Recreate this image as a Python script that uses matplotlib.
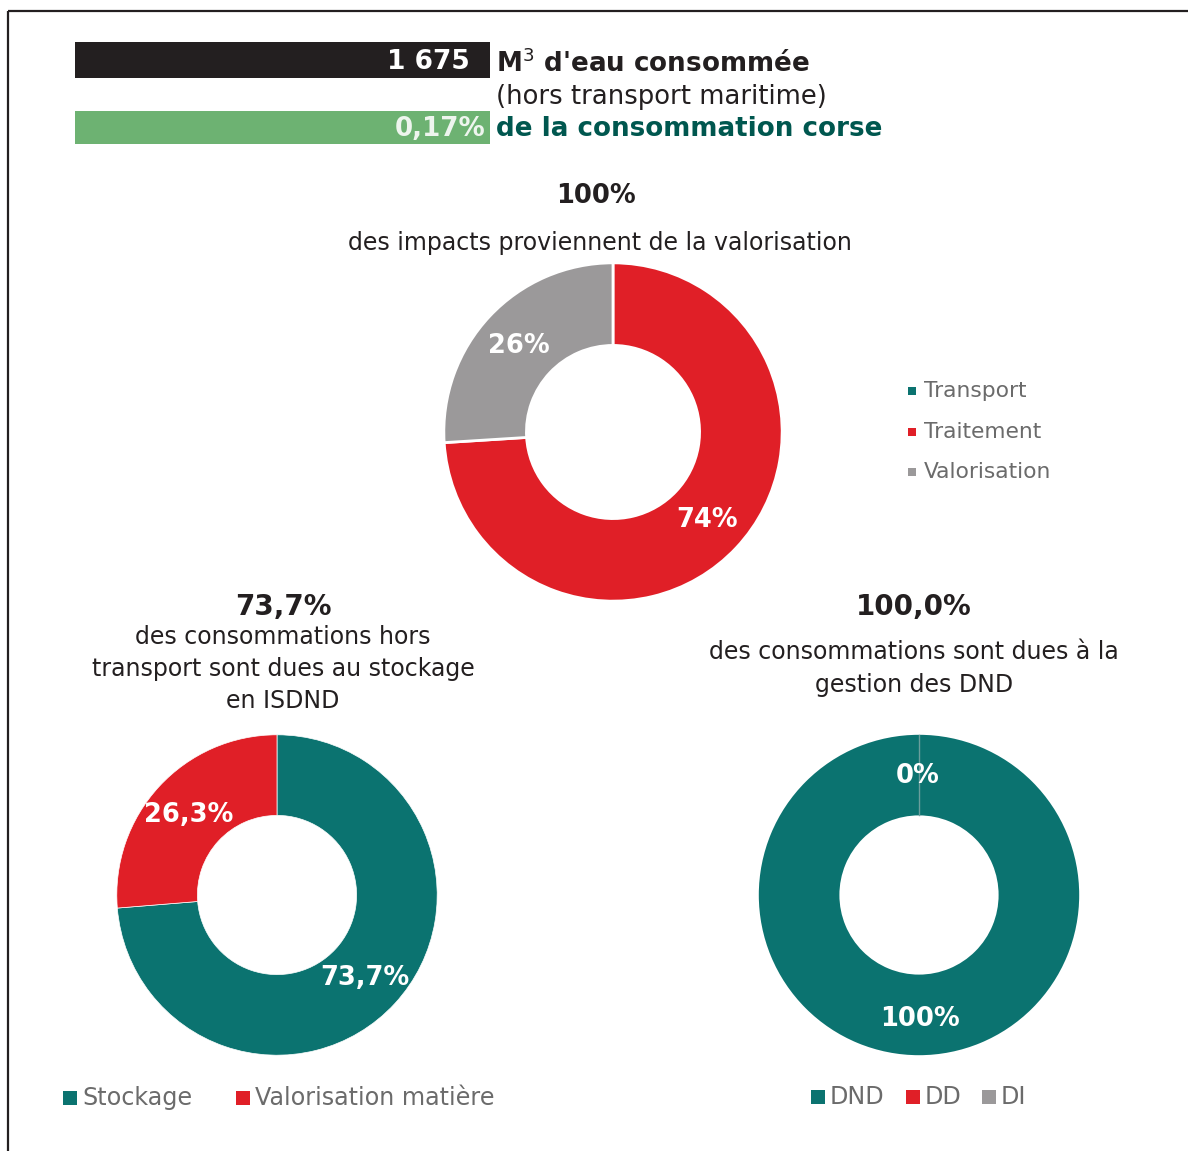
import matplotlib
matplotlib.use("Agg")
import matplotlib.pyplot as plt
from matplotlib.patches import Rectangle

W, H = 1188, 1151
DPI = 100

# ---- data ----
headline_value = "1 675"
headline_unit = "M$^{3}$ d'eau consommée"
headline_sub = "(hors transport maritime)"
share_value = "0,17%"
share_text = "de la consommation corse"

top_labels = ["Transport", "Traitement", "Valorisation"]
top_values = [0.0, 74.0, 26.0]
top_texts = ["", "74%", "26%"]
top_title_bold = "100%"
top_title = "des impacts proviennent de la valorisation"

bl_labels = ["Stockage", "Valorisation matière"]
bl_values = [73.7, 26.3]
bl_texts = ["73,7%", "26,3%"]
bl_title_bold = "73,7%"
bl_title = ["des consommations hors", "transport sont dues au stockage", "en ISDND"]

br_labels = ["DND", "DD", "DI"]
br_values = [100.0, 0.0, 0.0]
br_texts = ["100%", "0%", ""]
br_title_bold = "100,0%"
br_title = ["des consommations sont dues à la", "gestion des DND"]

TEAL = "#0b7370"
RED = "#e01f27"
GREY = "#9b999a"
BLACK = "#231f20"
GREEN = "#6db272"
DKTEAL = "#00574f"
LEG = "#6b6b6b"

plt.rcParams['font.family'] = ['DejaVu Sans']

fig = plt.figure(figsize=(W / DPI, H / DPI), dpi=DPI)


def donut(cx, cy, R, r, values, colors, lw):
    ax = fig.add_axes([(cx - R) / W, 1 - (cy + R) / H, 2 * R / W, 2 * R / H])
    ax.pie(values, colors=colors, startangle=90, counterclock=False,
           radius=1.0, wedgeprops=dict(width=1 - r / R, edgecolor="white",
                                       linewidth=lw))
    ax.set_xlim(-1.005, 1.005)
    ax.set_ylim(-1.005, 1.005)
    ax.axis("off")
    return ax


donut(613, 432, 170, 87, top_values, [TEAL, RED, GREY], 2)
donut(277, 895, 161, 80, bl_values, [TEAL, RED], 0.5)
donut(919, 895, 161, 80, br_values, [TEAL, RED, GREY], 0)

fg = fig.add_axes([0, 0, 1, 1])
fg.set_xlim(0, W)
fg.set_ylim(H, 0)
fg.axis("off")
fg.patch.set_alpha(0)

# frame
fg.add_patch(Rectangle((8, 11), 1300, 1300, fill=False, ec=BLACK, lw=1.6))

# headline bars
fg.add_patch(Rectangle((75, 42), 415, 36, fc=BLACK, ec="none"))
fg.add_patch(Rectangle((75, 111), 415, 33, fc=GREEN, ec="none"))
fg.text(470, 62, headline_value, color="white", fontsize=19, fontweight="bold",
        ha="right", va="center")
fg.text(485, 129, share_value, color="#eef5ee", fontsize=18.8, fontweight="bold",
        ha="right", va="center")
fg.text(496, 64, headline_unit, color=BLACK, fontsize=18.8, fontweight="bold",
        ha="left", va="center")
fg.text(496, 97, headline_sub, color=BLACK, fontsize=18.6, ha="left", va="center")
fg.text(496, 129, share_text, color=DKTEAL, fontsize=18.8, fontweight="bold",
        ha="left", va="center")

# titles
fg.text(596, 196, top_title_bold, color=BLACK, fontsize=18.5, fontweight="bold",
        ha="center", va="center")
fg.text(600, 243, top_title, color=BLACK, fontsize=17, ha="center", va="center")
fg.text(283, 607, bl_title_bold, color=BLACK, fontsize=20, fontweight="bold",
        ha="center", va="center")
for line, y in zip(bl_title, [637, 669, 701]):
    fg.text(283, y, line, color=BLACK, fontsize=17, ha="center", va="center")
fg.text(914, 607, br_title_bold, color=BLACK, fontsize=20, fontweight="bold",
        ha="center", va="center")
for line, y in zip(br_title, [652, 685]):
    fg.text(914, y, line, color=BLACK, fontsize=17, ha="center", va="center")

# donut value labels
for t, (px, py) in zip(top_texts, [(0, 0), (707, 520), (519, 346)]):
    if t:
        fg.text(px, py, t, color="white", fontsize=18.5, fontweight="bold",
                ha="center", va="center")
for t, (px, py) in zip(bl_texts, [(365, 978), (189, 815)]):
    fg.text(px, py, t, color="white", fontsize=18.5, fontweight="bold",
            ha="center", va="center")
for t, (px, py) in zip(br_texts, [(920, 1019), (918, 776)]):
    fg.text(px, py, t, color="white", fontsize=18.5, fontweight="bold",
            ha="center", va="center")
# thin separator of the zero slices in the right donut
fg.plot([919, 919], [735, 815], color="#6a9e9c", lw=1)

# legends
for lab, col, y in zip(top_labels, [TEAL, RED, GREY], [391, 432, 472]):
    fg.add_patch(Rectangle((908, y - 4), 8, 8, fc=col, ec="none"))
    fg.text(924, y, lab, color=LEG, fontsize=15.7, ha="left", va="center")

for lab, col, x in zip(bl_labels, [TEAL, RED], [63, 236]):
    fg.add_patch(Rectangle((x, 1091), 14, 14, fc=col, ec="none"))
    fg.text(x + 19, 1098, lab, color=LEG, fontsize=17.2, ha="left", va="center")

for lab, col, x in zip(br_labels, [TEAL, RED, GREY], [811, 906, 982]):
    fg.add_patch(Rectangle((x, 1090), 14, 14, fc=col, ec="none"))
    fg.text(x + 19, 1097, lab, color=LEG, fontsize=17.2, ha="left", va="center")

fig.savefig("out.png", dpi=DPI)
